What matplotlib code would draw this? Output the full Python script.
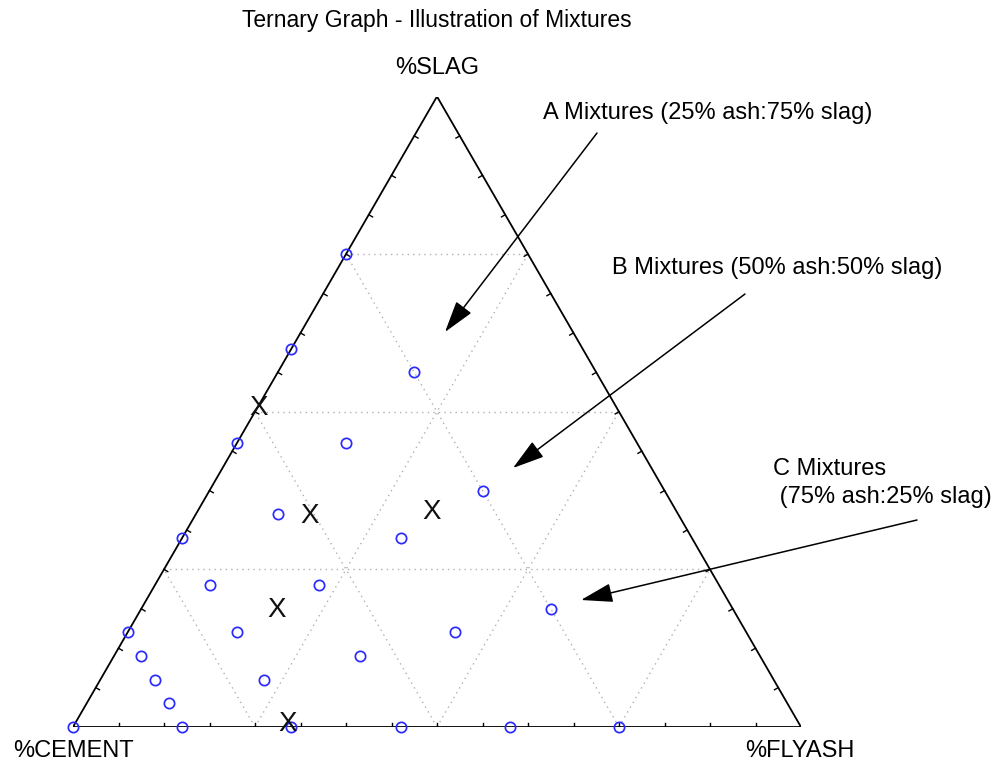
import numpy as np
import matplotlib
matplotlib.use("Agg")
import matplotlib.pyplot as plt

plt.rcParams['font.family'] = ['Liberation Sans', 'DejaVu Sans']

# mixtures (percent of binder)
slag_pct = [0, 15, 11.25, 7.5, 3.75, 0,
            30, 22.5, 15, 7.5, 0,
            45, 33.75, 22.5, 11.25, 0,
            60, 45, 30, 15, 0,
            75, 56.25, 37.5, 18.75, 0]
ash_pct = [0, 0, 3.75, 7.5, 11.25, 15,
           0, 7.5, 15, 22.5, 30,
           0, 11.25, 22.5, 33.75, 45,
           0, 15, 30, 45, 60,
           0, 18.75, 37.5, 56.25, 75]

# the big X marks
x_slag = [51, 34, 19, 1, 34.5]
x_ash = [0, 15.5, 18.5, 29, 32]

grid_levels = [25, 50, 75]
n_ticks = 16

H = np.sqrt(3) / 2


def tern(slag, ash):
    s = np.asarray(slag, float) / 100.0
    f = np.asarray(ash, float) / 100.0
    return f + s / 2, s * H


W, HPX = 998, 765
fig = plt.figure(figsize=(W / 100, HPX / 100), dpi=100)
ax = fig.add_axes([73 / W, 38 / HPX, 728 / W, 630.5 / HPX])
ax.set_xlim(0, 1)
ax.set_ylim(0, H)
ax.axis('off')

# dotted grid
for g in grid_levels:
    # constant slag (horizontal)
    x, y = tern([g, g], [0, 100 - g])
    ax.plot(x, y, ls=(0, (1, 3)), color='#b0b0b0', lw=1.0)
    # constant ash
    x, y = tern([0, 100 - g], [g, g])
    ax.plot(x, y, ls=(0, (1, 3)), color='#b0b0b0', lw=1.0)
    # constant cement
    x, y = tern([0, 100 - g], [100 - g, 0])
    ax.plot(x, y, ls=(0, (1, 3)), color='#b0b0b0', lw=1.0)

# triangle frame
x, y = tern([0, 0, 100, 0], [0, 100, 0, 0])
ax.plot(x, y, color='black', lw=1.3, solid_joinstyle='miter')

# small inward ticks
tl = 0.006
corners = [tern(0, 0), tern(0, 100), tern(100, 0)]
corners = [np.array([cx, cy]) for cx, cy in corners]
for a, b in [(0, 1), (1, 2), (2, 0)]:
    p0, p1 = corners[a], corners[b]
    d = p1 - p0
    nrm = np.array([-d[1], d[0]]) / np.hypot(*d)
    for k in range(1, n_ticks):
        p = p0 + d * k / n_ticks
        q = p + nrm * tl
        ax.plot([p[0], q[0]], [p[1], q[1]], color='black', lw=1.0)

# mixtures
x, y = tern(slag_pct, ash_pct)
ax.plot(x, y, 'o', ms=7.4, mfc='none', mec='#2a2aff', mew=1.25, clip_on=False)

x, y = tern(x_slag, x_ash)
for xi, yi in zip(x, y):
    ax.text(xi, yi, 'X', fontsize=20, ha='center', va='center_baseline',
            color='#111111', clip_on=False)


def fp(px, py):
    return px / W, 1 - py / HPX


fig.text(*fp(437, 20), 'Ternary Graph - Illustration of Mixtures', fontsize=16.5,
         ha='center', va='center')
fig.text(*fp(437, 68), '%SLAG', fontsize=17, ha='center', va='center')
fig.text(*fp(13, 751), '%CEMENT', fontsize=17, ha='left', va='center')
fig.text(*fp(745, 751), '%FLYASH', fontsize=17, ha='left', va='center')

fig.text(*fp(543, 113), 'A Mixtures (25% ash:75% slag)', fontsize=17, ha='left', va='center')
fig.text(*fp(612, 268), 'B Mixtures (50% ash:50% slag)', fontsize=17, ha='left', va='center')
fig.text(*fp(773, 483), 'C Mixtures\n (75% ash:25% slag)', fontsize=17, ha='left',
         va='center', linespacing=1.35)

arrows = [((597, 133), (445, 332)),
          ((745, 294), (513, 468)),
          ((917, 520), (581, 600))]
for tail, tip in arrows:
    ax.annotate('', xy=(tip[0], HPX - tip[1]), xycoords='figure pixels',
                xytext=(tail[0], HPX - tail[1]), textcoords='figure pixels',
                arrowprops=dict(arrowstyle='-|>,head_length=1.1,head_width=0.33',
                                mutation_scale=18, color='black', lw=1.1,
                                shrinkA=0, shrinkB=0))

fig.savefig('out.png', dpi=100)
